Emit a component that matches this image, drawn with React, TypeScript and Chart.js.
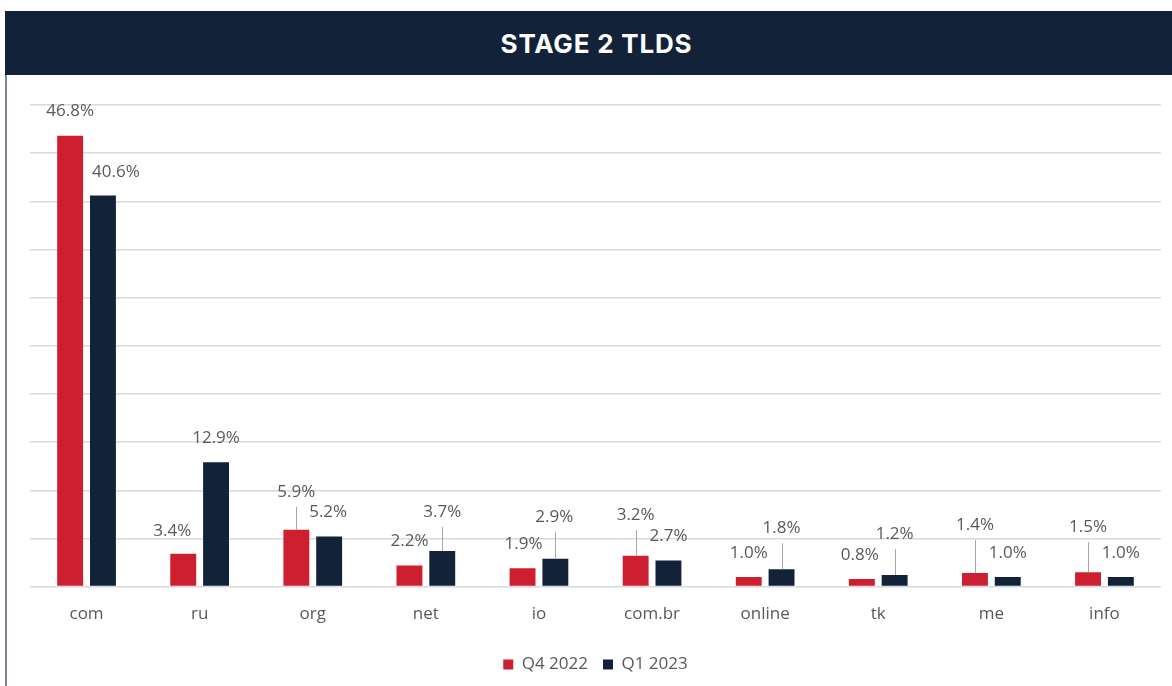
import React, { useEffect, useRef } from "react";
import { Chart, registerables } from "chart.js";

Chart.register(...registerables);

const categories = ["com", "ru", "org", "net", "io", "com.br", "online", "tk", "me", "info"];
const q4_2022 = [46.8, 3.4, 5.9, 2.2, 1.9, 3.2, 1.0, 0.8, 1.4, 1.5];
const q1_2023 = [40.6, 12.9, 5.2, 3.7, 2.9, 2.7, 1.8, 1.2, 1.0, 1.0];
const seriesNames = ["Q4 2022", "Q1 2023"];

const RED = "#cd1f2f";
const NAVY = "#112239";
const TEXT = "#595959";

// label placement (dx, dy relative to bar top centre), in px
const labelPlacement: number[][][] = [
  [[0, -25], [-11, -23], [0, -38], [0, -24], [1, -24], [0, -41], [0, -24], [-2, -24], [0, -48], [0, -45]],
  [[13, -23], [0, -24], [-1, -24], [0, -39], [-1, -42], [0, -24], [0, -41], [0, -41], [0, -24], [0, -24]],
];

const labelPlugin = {
  id: "valueLabels",
  afterDatasetsDraw(chart: any) {
    const ctx = chart.ctx;
    ctx.save();
    ctx.font = "17px 'Open Sans'";
    ctx.fillStyle = TEXT;
    ctx.textAlign = "center";
    ctx.textBaseline = "middle";
    chart.data.datasets.forEach((ds: any, di: number) => {
      const meta = chart.getDatasetMeta(di);
      meta.data.forEach((bar: any, i: number) => {
        const [dx, dy] = labelPlacement[di][i];
        const x = bar.x + dx;
        const y = bar.y + dy;
        ctx.fillStyle = TEXT;
        ctx.fillText(ds.data[i].toFixed(1) + "%", x, y);
        if (dy < -30) {
          ctx.strokeStyle = "#a6a6a6";
          ctx.lineWidth = 1;
          ctx.beginPath();
          ctx.moveTo(Math.round(bar.x) + 0.5, y + 15);
          ctx.lineTo(Math.round(bar.x) + 0.5, bar.y);
          ctx.stroke();
        }
      });
    });
    ctx.restore();
  },
};

export default function App() {
  const ref = useRef<HTMLCanvasElement>(null);
  useEffect(() => {
    document.body.style.margin = "0";
    const chart = new Chart(ref.current!, {
      type: "bar",
      data: {
        labels: categories,
        datasets: [
          { label: seriesNames[0], data: q4_2022, backgroundColor: RED, categoryPercentage: 0.58, barPercentage: 0.79 },
          { label: seriesNames[1], data: q1_2023, backgroundColor: NAVY, categoryPercentage: 0.58, barPercentage: 0.79 },
        ],
      },
      options: {
        animation: false,
        responsive: false,
        maintainAspectRatio: false,
        layout: { padding: { left: 30, right: 11, top: 30, bottom: 3 } },
        plugins: {
          legend: {
            position: "bottom",
            labels: {
              boxWidth: 10,
              boxHeight: 10,
              padding: 15,
              color: TEXT,
              font: { family: "'Open Sans'", size: 17 },
            },
          },
          tooltip: { enabled: false },
        },
        scales: {
          x: {
            grid: { display: false, drawTicks: false },
            border: { display: false },
            ticks: { color: TEXT, font: { family: "'Open Sans'", size: 17 }, padding: 17 },
          },
          y: {
            min: 0,
            max: 50,
            grid: { color: "#d9d9d9", lineWidth: 1.5, drawTicks: false },
            border: { display: false },
            ticks: { display: false, stepSize: 5 },
            afterFit: (s: any) => {
              s.width = 0;
            },
          },
        },
      },
      plugins: [labelPlugin],
    });
    return () => chart.destroy();
  }, []);

  return (
    <div style={{ position: "relative", width: 1172, height: 686, background: "#fff", overflow: "hidden" }}>
      <div
        style={{
          position: "absolute",
          left: 5,
          top: 11,
          width: 1167,
          height: 64,
          boxSizing: "border-box",
          paddingLeft: 16,
          background: NAVY,
          color: "#fff",
          display: "flex",
          alignItems: "center",
          justifyContent: "center",
          fontFamily: "Inter, sans-serif",
          fontWeight: 700,
          fontSize: 26,
          letterSpacing: 0.8,
        }}
      >
        STAGE 2 TLDS
      </div>
      <div style={{ position: "absolute", left: 5, top: 75, width: 2, height: 611, background: "#7d8794" }} />
      <canvas ref={ref} width={1172} height={611} style={{ position: "absolute", left: 0, top: 75 }} />
    </div>
  );
}
